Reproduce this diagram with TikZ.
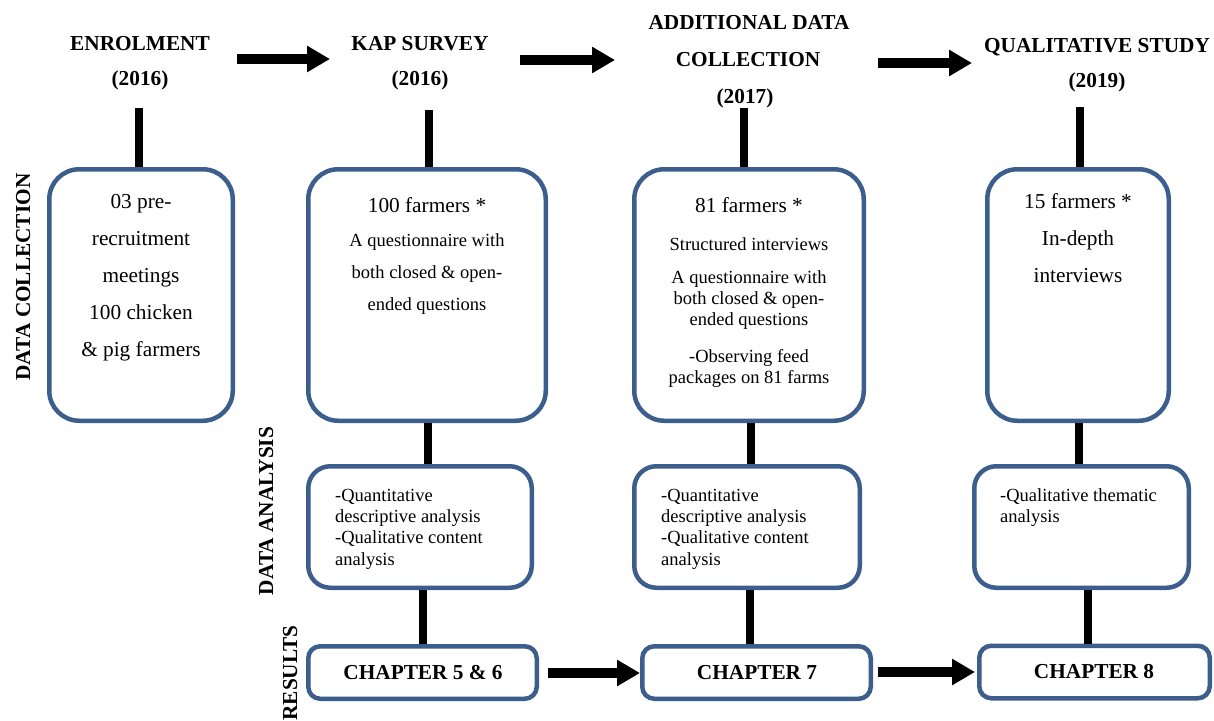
\documentclass[tikz,border=0pt]{standalone}
\usepackage{fontspec}
\setmainfont{Liberation Serif}
\usetikzlibrary{arrows.meta}
\definecolor{boxblue}{RGB}{59,94,140}
\begin{document}
\begin{tikzpicture}[x=1pt,y=-1pt,
  box/.style={draw=boxblue, line width=4.5pt, fill=white, inner sep=0pt},
  mainbox/.style={box, rounded corners=30pt, minimum height=251.5pt},
  anbox/.style={box, rounded corners=22pt, minimum height=121.5pt},
  resbox/.style={box, rounded corners=12pt, minimum height=52.5pt},
  txt/.style={inner sep=0pt, anchor=base, font=\fontsize{21.3}{25}\selectfont},
  sm/.style={inner sep=0pt, anchor=base, font=\fontsize{18.5}{22}\selectfont},
  lft/.style={sm, anchor=base west},
  hdr/.style={inner sep=0pt, anchor=base, font=\fontsize{21.3}{25}\selectfont\bfseries},
  side/.style={hdr, rotate=90},
  conn/.style={line width=8pt},
  bigarrow/.style={line width=9.5pt, -{Triangle[length=23pt,width=25pt]}}
]
\useasboundingbox (0,0) rectangle (1214,720);

% stage headings
\node[hdr] (h1a) at (140,50) {ENROLMENT};
\node[hdr] (h1b) at (140,85) {(2016)};
\node[hdr] (h2a) at (420,50) {KAP SURVEY};
\node[hdr] (h2b) at (420,85) {(2016)};
\node[hdr] (h3a) at (749,29) {ADDITIONAL DATA};
\node[hdr] (h3b) at (748,66) {COLLECTION};
\node[hdr] (h3c) at (745,103) {(2017)};
\node[hdr] (h4a) at (1097,52) {QUALITATIVE STUDY};
\node[hdr] (h4b) at (1097,87) {(2019)};

% phase labels on the left
\node[side] (s1) at (30,277) {DATA COLLECTION};
\node[side] (s2) at (273,511) {DATA ANALYSIS};
\node[side] (s3) at (297,673) {RESULTS};

% data collection boxes
\node[mainbox, minimum width=183.5pt] (b1) at (141,295) {};
\node[mainbox, minimum width=237.5pt] (b2) at (427,295) {};
\node[mainbox, minimum width=229.5pt] (b3) at (749,295) {};
\node[mainbox, minimum width=181.5pt] (b4) at (1078,295) {};

% data analysis boxes
\node[anbox, minimum width=223.5pt] (a2) at (420,527) {};
\node[anbox, minimum width=225.5pt] (a3) at (747,527) {};
\node[anbox, minimum width=214.5pt] (a4) at (1081.5,527) {};

% result boxes
\node[resbox, minimum width=228.5pt] (r2) at (422.5,672.5) {};
\node[resbox, minimum width=228.5pt] (r3) at (756.5,672.5) {};
\node[resbox, minimum width=230.5pt] (r4) at (1094.5,672) {};

% box texts
\node[txt] (t1a) at (141,208) {03 pre-};
\node[txt] (t1b) at (141,245) {recruitment};
\node[txt] (t1c) at (141,282) {meetings};
\node[txt] (t1d) at (141,319) {100 chicken};
\node[txt] (t1e) at (141,356) {\& pig farmers};

\node[txt] (t2a) at (427,212) {100 farmers *};
\node[sm] (t2b) at (427,246) {A questionnaire with};
\node[sm] (t2c) at (427,278) {both closed \& open-};
\node[sm] (t2d) at (427,310) {ended questions};

\node[txt] (t3a) at (749,212) {81 farmers *};
\node[sm] (t3b) at (749,250) {Structured interviews};
\node[sm] (t3c) at (749,283) {A questionnaire with};
\node[sm] (t3d) at (749,304) {both closed \& open-};
\node[sm] (t3e) at (749,325) {ended questions};
\node[sm] (t3f) at (749,362) {-Observing feed};
\node[sm] (t3g) at (749,383) {packages on 81 farms};

\node[txt] (t4a) at (1078,208) {15 farmers *};
\node[txt] (t4b) at (1078,245) {In-depth};
\node[txt] (t4c) at (1078,282) {interviews};

\node[lft] (u2a) at (335,501) {-Quantitative};
\node[lft] (u2b) at (335,522) {descriptive analysis};
\node[lft] (u2c) at (335,543) {-Qualitative content};
\node[lft] (u2d) at (335,565) {analysis};

\node[lft] (u3a) at (661,501) {-Quantitative};
\node[lft] (u3b) at (661,522) {descriptive analysis};
\node[lft] (u3c) at (661,543) {-Qualitative content};
\node[lft] (u3d) at (661,565) {analysis};

\node[lft] (u4a) at (1000,501) {-Qualitative thematic};
\node[lft] (u4b) at (1000,522) {analysis};

\node[hdr] (c2) at (423,679) {CHAPTER 5 \& 6};
\node[hdr] (c3) at (757,679) {CHAPTER 7};
\node[hdr] (c4) at (1094,678) {CHAPTER 8};

% arrow end points between headings
\coordinate (p1s) at (237,59);  \coordinate (p1e) at (330,59);
\coordinate (p2s) at (520,60);  \coordinate (p2e) at (615,60);
\coordinate (p3s) at (878,63);  \coordinate (p3e) at (972,63);
% upper ends of the heading connectors
\coordinate (q1) at (139,108);
\coordinate (q2) at (429,110);
\coordinate (q3) at (744,108);
\coordinate (q4) at (1080,107);

% timeline arrows
\draw[bigarrow] (p1s) -- (p1e);
\draw[bigarrow] (p2s) -- (p2e);
\draw[bigarrow] (p3s) -- (p3e);
\draw[bigarrow] ([xshift=9pt]r2.east |- 0,673) -- (r3.west |- 0,673);
\draw[bigarrow] ([xshift=5pt]r3.east |- 0,672) -- ([xshift=-2pt]r4.west |- 0,672);

% vertical connectors
\draw[conn] (q1) -- (q1 |- b1.north);
\draw[conn] (q2) -- (q2 |- b2.north);
\draw[conn] (q3) -- (q3 |- b3.north);
\draw[conn] (q4) -- (q4 |- b4.north);
\draw[conn] (428,0 |- b2.south) -- (428,0 |- a2.north);
\draw[conn] (751,0 |- b3.south) -- (751,0 |- a3.north);
\draw[conn] (1079,0 |- b4.south) -- (1079,0 |- a4.north);
\draw[conn] (423,0 |- a2.south) -- (423,0 |- r2.north);
\draw[conn] (750,0 |- a3.south) -- (750,0 |- r3.north);
\draw[conn] (1088,0 |- a4.south) -- (1088,0 |- r4.north);
\end{tikzpicture}
\end{document}
